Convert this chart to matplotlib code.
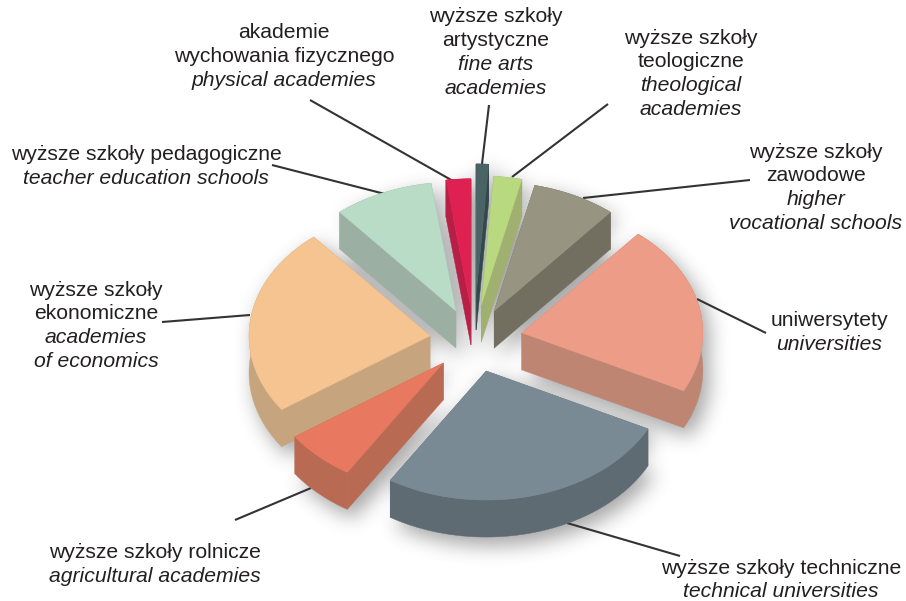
import numpy as np
from matplotlib import pyplot as plt
from matplotlib.patches import Polygon

# share of each school type, in percent, clockwise from the top of the pie
names = ["fine arts", "theological", "vocational", "universities", "technical",
         "agricultural", "economics", "teacher", "physical"]
shares = [1.1, 2.5, 7.5, 21.3, 26.5, 6.4, 23.6, 8.9, 2.2]

label_lines = [
    ["wyższe szkoły", "artystyczne", "fine arts", "academies"],
    ["wyższe szkoły", "teologiczne", "theological", "academies"],
    ["wyższe szkoły", "zawodowe", "higher", "vocational schools"],
    ["uniwersytety", "universities"],
    ["wyższe szkoły techniczne", "technical universities"],
    ["wyższe szkoły rolnicze", "agricultural academies"],
    ["wyższe szkoły", "ekonomiczne", "academies", "of economics"],
    ["wyższe szkoły pedagogiczne", "teacher education schools"],
    ["akademie", "wychowania fizycznego", "physical academies"],
]
# how many lines of each label are the Polish ones (the rest are italic)
polish_count = [2, 2, 2, 1, 1, 1, 2, 1, 2]

# layout, in reference pixels
label_x = [496, 691, 816, 829, 781, 155, 96, 146, 284]
label_y = [17, 38, 152, 321, 568, 553, 290, 155, 33]
leaders = [
    ((489, 105), (482, 164)), ((608, 104), (512, 177)), ((750, 180), (583, 198)),
    ((766, 333), (697, 299)), ((680, 556), (567, 523)), ((235, 520), (311, 488)),
    ((162, 322), (250, 315)), ((272, 165), (385, 194)), ((310, 100), (453, 181)),
]
explode = [0.365, 0.274, 0.25, 0.27, 0.25, 0.246, 0.245, 0.246, 0.25]
top_colors = ["#4A6364", "#B8D97F", "#979582", "#EC9C87", "#7A8A94",
              "#E97860", "#F5C490", "#B8DCC6", "#DE2150"]
side_colors = ["#33484A", "#9FB070", "#736F60", "#BD8572", "#5F6B72",
               "#B96A52", "#C6A57E", "#9BB0A2", "#B81F47"]
cx, cy = 474, 340
rx, ry = 181, 129
depth = 37
line_gap = 23.7


def ellipse_point(x0, y0, t):
    return x0 + rx * np.cos(t), y0 - ry * np.sin(t)


def build_slice(start, end, frac):
    mid = (start + end) / 2
    x0, y0 = ellipse_point(cx, cy, mid)
    x0 = cx + (x0 - cx) * frac
    y0 = cy + (y0 - cy) * frac
    t = np.linspace(start, end, 60)
    ax_, ay_ = ellipse_point(x0, y0, t)
    return x0, y0, ax_, ay_


def box_blur(img, r):
    # three box passes along each axis, close enough to a gaussian
    kernel = np.ones(2 * r + 1) / (2 * r + 1)
    for _ in range(3):
        img = np.apply_along_axis(np.convolve, 0, img, kernel, mode="same")
        img = np.apply_along_axis(np.convolve, 1, img, kernel, mode="same")
    return img


def shadow_image(slices):
    fig2 = plt.figure(figsize=(9.06, 6.01), dpi=100)
    a2 = fig2.add_axes([0, 0, 1, 1])
    a2.set_xlim(0, 906)
    a2.set_ylim(601, 0)
    a2.axis("off")
    for x0, y0, ax_, ay_ in slices:
        for shift in (0, depth):
            pts = np.column_stack([np.r_[x0, ax_] + 6, np.r_[y0, ay_] + shift + 8])
            a2.add_patch(Polygon(pts, closed=True, fc="k", ec="k"))
    fig2.canvas.draw()
    mask = 1 - np.asarray(fig2.canvas.buffer_rgba())[:, :, 0] / 255
    plt.close(fig2)
    mask = box_blur(mask, 9)
    rgba = np.zeros(mask.shape + (4,))
    rgba[:, :, :3] = 0.22
    rgba[:, :, 3] = mask * 0.45
    return rgba


fig = plt.figure(figsize=(9.06, 6.01), dpi=100)
ax = fig.add_axes([0, 0, 1, 1])

ends = np.radians(90 - np.cumsum(shares) * 3.6)
starts = np.concatenate(([np.pi / 2], ends[:-1]))
slices = [build_slice(s, e, f) for s, e, f in zip(starts, ends, explode)]

ax.imshow(shadow_image(slices), extent=(0, 906, 601, 0), aspect="auto", zorder=2)
ax.set_xlim(0, 906)
ax.set_ylim(601, 0)
ax.axis("off")

for (x1, y1), (x2, y2) in leaders:
    ax.plot([x1, x2], [y1, y2], color="#333333", lw=1.5, zorder=1,
            solid_capstyle="butt")

order = np.argsort([s[1] for s in slices])
z = 3
for i in order:
    x0, y0, ax_, ay_ = slices[i]
    side = side_colors[i]
    for k in (0, -1):
        wall = [(x0, y0), (ax_[k], ay_[k]), (ax_[k], ay_[k] + depth), (x0, y0 + depth)]
        ax.add_patch(Polygon(wall, closed=True, fc=side, ec=side, lw=0.3, zorder=z))
    rim = np.column_stack([np.r_[ax_, ax_[::-1]], np.r_[ay_, ay_[::-1] + depth]])
    ax.add_patch(Polygon(rim, closed=True, fc=side, ec=side, lw=0.3, zorder=z))
    top = np.column_stack([np.r_[x0, ax_], np.r_[y0, ay_]])
    ax.add_patch(Polygon(top, closed=True, fc=top_colors[i], ec=top_colors[i], lw=0.3, zorder=z))
    z += 1

for lines, n_pl, x, y in zip(label_lines, polish_count, label_x, label_y):
    for j, line in enumerate(lines):
        ax.text(x, y + j * line_gap, line, family="Liberation Sans", fontsize=15.2,
                color="#231F20", ha="center", va="center",
                style="normal" if j < n_pl else "italic", zorder=50)

fig.savefig("out.png", dpi=100, facecolor="white")
